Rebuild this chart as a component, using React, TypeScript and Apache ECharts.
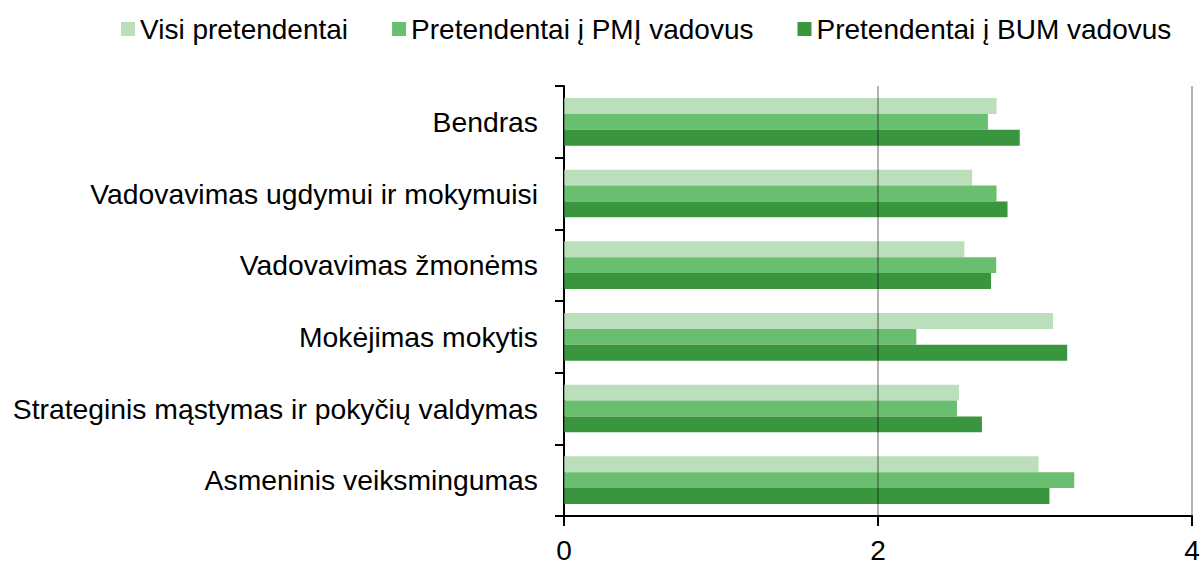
import React, { useEffect, useRef } from "react";
import * as echarts from "echarts";

const categories = [
  "Bendras",
  "Vadovavimas ugdymui ir mokymuisi",
  "Vadovavimas žmonėms",
  "Mokėjimas mokytis",
  "Strateginis mąstymas ir pokyčių valdymas",
  "Asmeninis veiksmingumas",
];
const seriesNames = ["Visi pretendentai", "Pretendentai į PMĮ vadovus", "Pretendentai į BUM vadovus"];
const visi = [2.755, 2.6, 2.55, 3.115, 2.516, 3.023];
const pmi = [2.7, 2.755, 2.753, 2.244, 2.503, 3.25];
const bum = [2.903, 2.825, 2.72, 3.205, 2.662, 3.092];
const colors = ["#bcdfbb", "#6abe6f", "#3a953f"];
const xTicks = { min: 0, max: 4, interval: 2 };

const FONT = "'Liberation Sans', Arial, sans-serif";

export default function App() {
  const ref = useRef<HTMLDivElement>(null);
  useEffect(() => {
    if (!ref.current) return;
    const chart = echarts.init(ref.current, undefined, { renderer: "svg" });
    const data = [visi, pmi, bum];
    chart.setOption({
      animation: false,
      backgroundColor: "#fff",
      textStyle: { fontFamily: FONT },
      legend: {
        left: 116,
        top: 10,
        itemWidth: 14,
        itemHeight: 14,
        itemGap: 44,
        icon: "rect",
        textStyle: { fontSize: 28, color: "#000", fontFamily: FONT },
        data: seriesNames,
      },
      grid: { left: 564, right: 11, top: 86, bottom: 44, containLabel: false },
      xAxis: {
        type: "value",
        min: xTicks.min,
        max: xTicks.max,
        interval: xTicks.interval,
        z: 3,
        axisLine: { show: true, lineStyle: { color: "#000", width: 2 } },
        axisTick: { show: true, length: 10, lineStyle: { color: "#000", width: 2 } },
        axisLabel: { fontSize: 28, color: "#000", margin: 20, fontFamily: FONT },
        splitLine: { show: true, lineStyle: { color: "rgba(0,0,0,0.4)", width: 1.5 } },
      },
      yAxis: {
        type: "category",
        data: categories,
        inverse: true,
        axisLine: { show: true, lineStyle: { color: "#000", width: 2 } },
        axisTick: { show: true, length: 9, lineStyle: { color: "#000", width: 2 } },
        axisLabel: { fontSize: 28.3, color: "#000", margin: 26, fontFamily: FONT },
        splitLine: { show: false },
      },
      series: seriesNames.map((name, i) => ({
        name,
        type: "bar",
        data: data[i],
        barGap: "0%",
        barCategoryGap: "33.6%",
        itemStyle: { color: colors[i] },
      })),
    });
    return () => chart.dispose();
  }, []);
  return <div ref={ref} style={{ position: "fixed", left: 0, top: 0, width: 1203, height: 564 }} />;
}
